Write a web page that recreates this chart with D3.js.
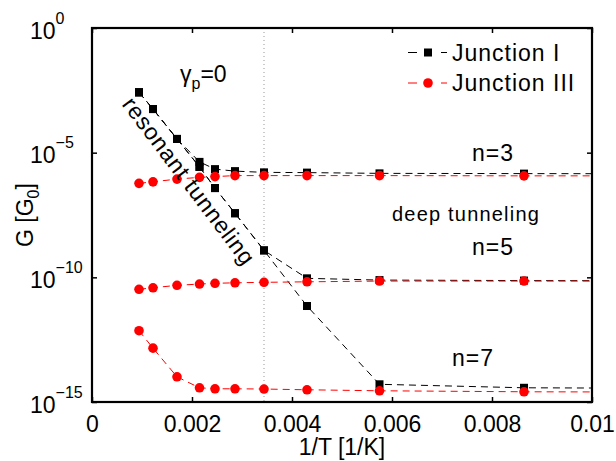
<!DOCTYPE html>
<html>
<head>
<meta charset="utf-8">
<script src="https://cdn.jsdelivr.net/npm/d3@7"></script>
<style>
  body { margin: 0; background: #fff; }
  text { font-family: "Liberation Sans", Arial, sans-serif; fill: #000; }
</style>
</head>
<body>
<svg id="chart" width="616" height="461"></svg>
<script>
// ---- data (x = 1/T [1/K], y = log10 of G [G0]) ----
// last temperature (77 K) lies beyond the plotted x-range; its marks are clipped
const invT = [0.00094, 0.00122, 0.0017, 0.00215, 0.00246, 0.00286, 0.00344, 0.0043, 0.00575, 0.00864, 0.013];

const junctionI_n3   = [-2.58, -3.25, -4.45, -5.37, -5.66, -5.74, -5.79, -5.80, -5.83, -5.84, -5.85];
const junctionI_n5   = [-2.58, -3.25, -4.45, -5.57, -6.42, -7.43, -8.92, -10.04, -10.11, -10.13, -10.14];
const junctionI_n7   = [-2.58, -3.25, -4.45, -5.57, -6.42, -7.43, -8.92, -11.15, -14.29, -14.43, -14.46];

const junctionIII_n3 = [-6.23, -6.17, -6.06, -5.99, -5.96, -5.92, -5.92, -5.92, -5.92, -5.93, -5.93];
const junctionIII_n5 = [-10.48, -10.42, -10.32, -10.27, -10.24, -10.22, -10.20, -10.18, -10.15, -10.15, -10.15];
const junctionIII_n7 = [-12.14, -12.84, -13.99, -14.43, -14.47, -14.47, -14.48, -14.51, -14.55, -14.59, -14.61];

const xTicks = [0, 0.002, 0.004, 0.006, 0.008, 0.01];
const yTicks = [1e-15, 1e-10, 1e-5, 1];
const roomTempInvT = 0.00344;

const legendLabels = ["Junction I", "Junction III"];

// ---- layout ----
const svg = d3.select("#chart");
const L = 92, R = 592, T = 28, B = 402;
const x = d3.scaleLinear().domain([0, 0.01]).range([L, R]);
const y = d3.scaleLog().domain([1e-15, 1]).range([B, T]);

svg.append("rect").attr("width", 616).attr("height", 461).attr("fill", "#fff");
svg.append("clipPath").attr("id", "plotclip").append("rect")
  .attr("x", L).attr("y", T).attr("width", R - L).attr("height", B - T);

const plot = svg.append("g").attr("clip-path", "url(#plotclip)");

// room temperature dotted line
plot.append("line")
  .attr("x1", x(roomTempInvT)).attr("x2", x(roomTempInvT))
  .attr("y1", T).attr("y2", B)
  .attr("stroke", "#999").attr("stroke-width", 1)
  .attr("stroke-dasharray", "1,3");

// series
const toPts = arr => arr.map((v, i) => [invT[i], Math.pow(10, v)]);
const line = d3.line().x(d => x(d[0])).y(d => y(d[1]));

const blackSeries = [junctionI_n3, junctionI_n5, junctionI_n7];
const redSeries = [junctionIII_n3, junctionIII_n5, junctionIII_n7];

blackSeries.forEach(s => {
  const pts = toPts(s);
  plot.append("path").datum(pts).attr("d", line)
    .attr("fill", "none").attr("stroke", "#000").attr("stroke-width", 1)
    .attr("stroke-dasharray", "7,5");
  plot.append("g").selectAll("rect").data(pts).join("rect")
    .attr("x", d => x(d[0]) - 4).attr("y", d => y(d[1]) - 4)
    .attr("width", 8).attr("height", 8).attr("fill", "#000");
});
redSeries.forEach(s => {
  const pts = toPts(s);
  plot.append("path").datum(pts).attr("d", line)
    .attr("fill", "none").attr("stroke", "#f00").attr("stroke-width", 1)
    .attr("stroke-dasharray", "7,5");
  plot.append("g").selectAll("circle").data(pts).join("circle")
    .attr("cx", d => x(d[0])).attr("cy", d => y(d[1]))
    .attr("r", 4.8).attr("fill", "#f00");
});

// axes
const fmtX = d => d === 0 ? "0" : String(+d.toFixed(3));
const xb = svg.append("g").attr("transform", `translate(0,${B})`)
  .call(d3.axisBottom(x).tickValues(xTicks).tickSize(-5).tickFormat(fmtX));
const xt = svg.append("g").attr("transform", `translate(0,${T})`)
  .call(d3.axisTop(x).tickValues(xTicks).tickSize(-5).tickFormat(""));
const yl = svg.append("g").attr("transform", `translate(${L},0)`)
  .call(d3.axisLeft(y).tickValues(yTicks).tickSize(-5).tickFormat(""));
const yr = svg.append("g").attr("transform", `translate(${R},0)`)
  .call(d3.axisRight(y).tickValues(yTicks).tickSize(-5).tickFormat(""));
[xb, xt, yl, yr].forEach(g => {
  g.select(".domain").remove();
  g.selectAll(".tick line").attr("stroke", "#000").attr("stroke-width", 1.5);
});
xb.selectAll(".tick text")
  .attr("font-size", 23).attr("dy", null).attr("y", 30)
  .style("font-family", "Liberation Sans, Arial, sans-serif");

yl.selectAll(".tick").each(function(d) {
  const e = Math.round(Math.log10(d));
  const t = d3.select(this).append("text")
    .attr("x", -62).attr("y", 10).attr("text-anchor", "start")
    .attr("font-size", 23).attr("fill", "#000");
  t.append("tspan").text("10");
  t.append("tspan").attr("font-size", 16).attr("dy", -15)
    .text(e === 0 ? "0" : "\u2212" + Math.abs(e));
});

// frame
svg.append("rect").attr("x", L).attr("y", T).attr("width", R - L).attr("height", B - T)
  .attr("fill", "none").attr("stroke", "#000").attr("stroke-width", 2.2);

// axis labels
svg.append("text").attr("x", (L + R) / 2).attr("y", 455).attr("text-anchor", "middle")
  .attr("font-size", 23).text("1/T [1/K]");
const yLab = svg.append("text").attr("transform", `translate(33,${(T + B) / 2}) rotate(-90)`)
  .attr("text-anchor", "middle").attr("font-size", 23);
yLab.append("tspan").text("G [G");
yLab.append("tspan").attr("font-size", 16).attr("dy", 6).text("0");
yLab.append("tspan").attr("dy", -6).text("]");

// annotations
const gam = svg.append("text").attr("x", 180).attr("y", 82).attr("font-size", 23);
gam.append("tspan").text("\u03b3");
gam.append("tspan").attr("font-size", 16).attr("dy", 7).text("p");
gam.append("tspan").attr("dy", -7).text("=0");

svg.append("text").attr("x", 472).attr("y", 161).attr("font-size", 23)
  .attr("letter-spacing", 1).text("n=3");
svg.append("text").attr("x", 392).attr("y", 221).attr("font-size", 20)
  .attr("letter-spacing", 1.2).text("deep tunneling");
svg.append("text").attr("x", 472).attr("y", 255).attr("font-size", 23)
  .attr("letter-spacing", 1).text("n=5");
svg.append("text").attr("x", 452).attr("y", 366).attr("font-size", 23)
  .attr("letter-spacing", 1).text("n=7");
svg.append("text").attr("transform", "translate(189,181) rotate(53)")
  .attr("text-anchor", "middle").attr("dy", "0.35em").attr("font-size", 23)
  .attr("letter-spacing", 0.8).text("resonant tunneling");

// legend
const legend = svg.append("g");
[["#000", "rect"], ["#f00", "circle"]].forEach((st, i) => {
  const cy = 52.5 + i * 30.5;
  legend.append("line").attr("x1", 408).attr("x2", 447).attr("y1", cy).attr("y2", cy)
    .attr("stroke", st[0]).attr("stroke-width", 1).attr("stroke-dasharray", "9,24,6");
  if (st[1] === "rect") {
    legend.append("rect").attr("x", 424).attr("y", cy - 4).attr("width", 8).attr("height", 8).attr("fill", st[0]);
  } else {
    legend.append("circle").attr("cx", 428).attr("cy", cy).attr("r", 4.8).attr("fill", st[0]);
  }
  legend.append("text").attr("x", 452).attr("y", cy + 8).attr("font-size", 23)
    .attr("letter-spacing", 1).text(legendLabels[i]);
});
</script>
</body>
</html>
